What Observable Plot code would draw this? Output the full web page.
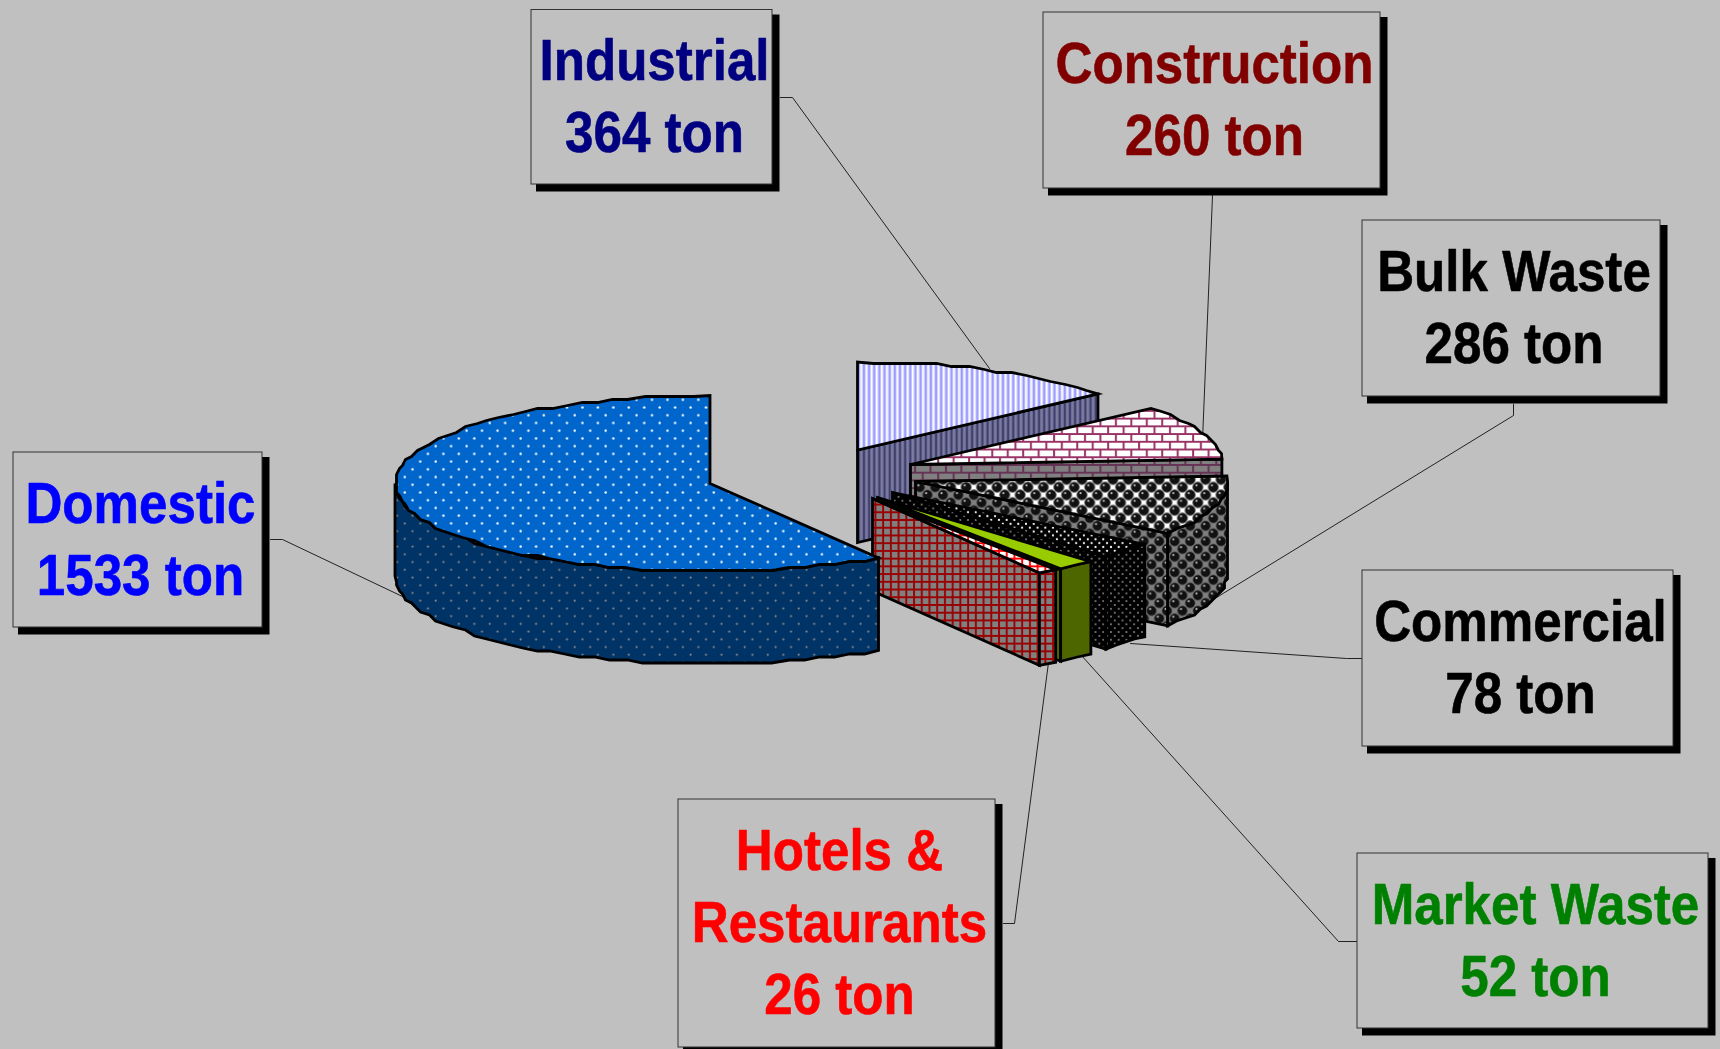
<!DOCTYPE html>
<html>
<head>
<meta charset="utf-8">
<script src="https://cdn.jsdelivr.net/npm/d3@7"></script>
<script src="https://cdn.jsdelivr.net/npm/@observablehq/plot@0.6"></script>
<style>
  html, body { margin: 0; padding: 0; background: #c0c0c0; overflow: hidden; }
  svg { display: block; }
</style>
</head>
<body>
<div id="chart"></div>
<script>
// Daily solid waste by source, in tons, clockwise from twelve o'clock.
const categories = ["Industrial", "Construction", "Bulk Waste", "Commercial", "Market Waste", "Hotels & Restaurants", "Domestic"];
const tons = [364, 260, 286, 78, 52, 26, 1533];
const labelLines = [["Industrial"], ["Construction"], ["Bulk Waste"], ["Commercial"], ["Market Waste"], ["Hotels &", "Restaurants"], ["Domestic"]];
const labelColors = ["#000080", "#800000", "#000000", "#000000", "#008000", "#ff0000", "#0000ff"];
const topFills = ["stripesTop", "brickTop", "ballsTop", "speckTop", "#99cc00", "gridTop", "dotsTop"];
const sideFills = ["stripesSide", "brickSide", "ballsSide", "speckSide", "#4d6600", "gridSide", "dotsSide"];

// Layout of the exploded pie, in chart units.
const radiiX = [312, 312, 312, 312, 312, 312, 315];
const radiusY = 88, depth = 92.5;
const apexes = [[857, 449.5], [910, 464], [915, 481], [892, 492], [877, 497], [872, 498], [709.5, 483]];
// Callout boxes: left, top, right, bottom, then the leader line leaving the box.
const boxes = [
  [531, 9.5, 772, 184, [[780, 97], [792, 97], [989, 368]]],
  [1043, 12, 1380, 188, [[1212, 195], [1202, 440]]],
  [1362, 220, 1660, 396, [[1513, 404], [1513, 415], [1203, 605]]],
  [1362, 570, 1673, 746, [[1362, 658], [1346, 658], [1130, 643]]],
  [1357, 853, 1708, 1028, [[1357, 941], [1338, 941], [1081, 655]]],
  [678, 799, 995, 1047, [[1003, 923], [1014, 923], [1048, 662]]],
  [13, 452, 262, 627, [[270, 539], [282, 539], [402, 596]]]
];
const shadowNear = 5, shadowFar = 7.5;
const firstBaseline = 70, lineStep = 72, fontSize = 57, glyphSqueeze = 0.897;

const arcs = d3.pie().value((d) => d).sort(null).startAngle(0).endAngle(2 * Math.PI)(tons);

// The rim is a polyline snapped to a small grid, which gives its slightly stepped outline.
function rim(apex, radiusX, t0, t1) {
  const points = [];
  const steps = Math.max(1, Math.round((t1 - t0) / (3 * Math.PI / 180)));
  for (let i = 0; i <= steps; i++) {
    const t = t0 + (t1 - t0) * i / steps;
    let x = apex[0] + radiusX * Math.sin(t);
    let y = apex[1] - radiusY * Math.cos(t);
    if (i > 0 && i < steps) { x = Math.round(x / 3) * 3; y = Math.round(y / 3) * 3; }
    points.push({x, y});
  }
  return points;
}
const drop = (p) => ({x: p.x, y: p.y + depth});

const faces = [];
arcs.forEach((arc, i) => {
  const apex = apexes[i];
  const a = {x: apex[0], y: apex[1]};
  const t0 = arc.startAngle, t1 = arc.endAngle;
  // The cut face at the clockwise end is visible while it turns towards the viewer.
  if (Math.sin(t1) > 0.01) {
    const edge = rim(apex, radiiX[i], t1, t1)[0];
    faces.push({fill: sideFills[i], points: [a, edge, drop(edge), drop(a)]});
  }
  // Outer wall, only between three and nine o'clock.
  const lo = Math.max(t0, Math.PI / 2), hi = Math.min(t1, 3 * Math.PI / 2);
  if (hi > lo) {
    const wall = rim(apex, radiiX[i], lo, hi);
    faces.push({fill: sideFills[i], points: [...wall, ...wall.map(drop).reverse()]});
  }
  faces.push({fill: topFills[i], points: [a, ...rim(apex, radiiX[i], t0, t1)]});
});

const paint = (f) => f.startsWith("#") ? f : `url(#${f})`;

const textRows = [];
boxes.forEach((b, i) => {
  [...labelLines[i], `${tons[i]} ton`].forEach((text, k) => {
    textRows.push({text, x: (b[0] + b[2]) / 2 + 2.5, y: b[1] + firstBaseline + lineStep * k, color: labelColors[i]});
  });
});

const chart = Plot.plot({
  width: 1720,
  height: 1049,
  margin: 0,
  style: {background: "#c0c0c0"},
  x: {domain: [0, 1720], range: [0, 1720], axis: null},
  y: {domain: [0, 1049], range: [0, 1049], axis: null},
  marks: [
    ...boxes.map((b) => Plot.line(b[4], {x: "0", y: "1", stroke: "#222", strokeWidth: 1})),
    ...faces.map((f) => Plot.line(f.points, {
      x: "x", y: "y", curve: "linear-closed", fill: paint(f.fill),
      stroke: "#000", strokeWidth: 2.8, strokeLinejoin: "miter", strokeMiterlimit: 4
    })),
    Plot.rect(boxes, {
      x1: (b) => b[0] + shadowNear, y1: (b) => b[1] + shadowNear,
      x2: (b) => b[2] + shadowFar, y2: (b) => b[3] + shadowFar, fill: "#000"
    }),
    Plot.rect(boxes, {
      x1: "0", y1: "1", x2: "2", y2: "3", fill: "#c0c0c0", stroke: "#333", strokeWidth: 1
    }),
    Plot.text(textRows, {
      x: "x", y: "y", text: "text", fill: "color", stroke: "color", strokeWidth: 0.6,
      textAnchor: "middle", lineAnchor: "bottom",
      fontFamily: "Liberation Sans", fontWeight: "bold", fontSize
    })
  ]
});

// Fill patterns, tiled in chart space so that neighbouring faces line up.
const unit = 15.45, half = unit / 2;
function tile(id, w, h, body) {
  return `<pattern id="${id}" patternUnits="userSpaceOnUse" width="${w}" height="${h}">${body}</pattern>`;
}
const bg = (c, w = unit, h = unit) => `<rect width="${w}" height="${h}" fill="${c}"/>`;
const dots = (c, r) => [[2.6, 13.1], [10.3, 5.4]].map(([x, y]) => `<circle cx="${x}" cy="${y}" r="${r}" fill="${c}"/>`).join("");
const stripes = (base, a, b) => bg(base, 5.15, 10) +
  `<rect x="0" width="1.4" height="10" fill="${a}"/><rect x="2.6" width="1.6" height="10" fill="${b}"/>`;
const brick = (base, line) => bg(base) +
  `<path d="M0 1H${unit}M0 ${1 + half}H${unit}M3 1V${1 + half}M${3 + half} ${1 + half}V${1 + unit}" stroke="${line}" stroke-width="2" fill="none"/>`;
const grid = (base, line) => bg(base, half, half) +
  `<path d="M0 2H${half}M2 0V${half}" stroke="${line}" stroke-width="1.9" fill="none"/>`;
function balls(base) {
  const centers = [[0, 0], [unit, 0], [0, unit], [unit, unit], [half, half]];
  return bg(base) + centers.map(([x, y]) =>
    `<circle cx="${x}" cy="${y}" r="5.2" fill="#111" stroke="#777" stroke-width="0.8"/>` +
    `<circle cx="${x - 1.4}" cy="${y - 1.8}" r="1.1" fill="#bbb"/>`).join("");
}
const speck = (c, r) => bg("#000", half, half) +
  `<circle cx="1.9" cy="1.9" r="${r}" fill="${c}"/><circle cx="5.8" cy="5.8" r="${r}" fill="${c}"/>`;

d3.select(chart).insert("defs", ":first-child").html([
  tile("dotsTop", unit, unit, bg("#0066cc") + dots("#fff", 1.2)),
  tile("dotsSide", unit, unit, bg("#003366") + dots("#8a8a8a", 1.1)),
  tile("stripesTop", 5.15, 10, stripes("#ccccff", "#ffffff", "#9a9aff")),
  tile("stripesSide", 5.15, 10, stripes("#666699", "#80809a", "#3d3d66")),
  tile("brickTop", unit, unit, brick("#ffffff", "#993366")),
  tile("brickSide", unit, unit, brick("#808080", "#663355")),
  tile("ballsTop", unit, unit, balls("#ffffff")),
  tile("ballsSide", unit, unit, balls("#808080")),
  tile("speckTop", half, half, speck("#ffffff", 1.1)),
  tile("speckSide", half, half, speck("#8a8a8a", 1)),
  tile("gridTop", half, half, grid("#ffffff", "#ff0000")),
  tile("gridSide", half, half, grid("#808080", "#990000"))
].join(""));

// Callout lettering is tall and slightly condensed.
d3.select(chart).selectAll("text").each(function () {
  const placed = this.getAttribute("transform") || "";
  this.setAttribute("transform", `${placed} scale(${glyphSqueeze},1)`);
});

document.getElementById("chart").appendChild(chart);
</script>
</body>
</html>
